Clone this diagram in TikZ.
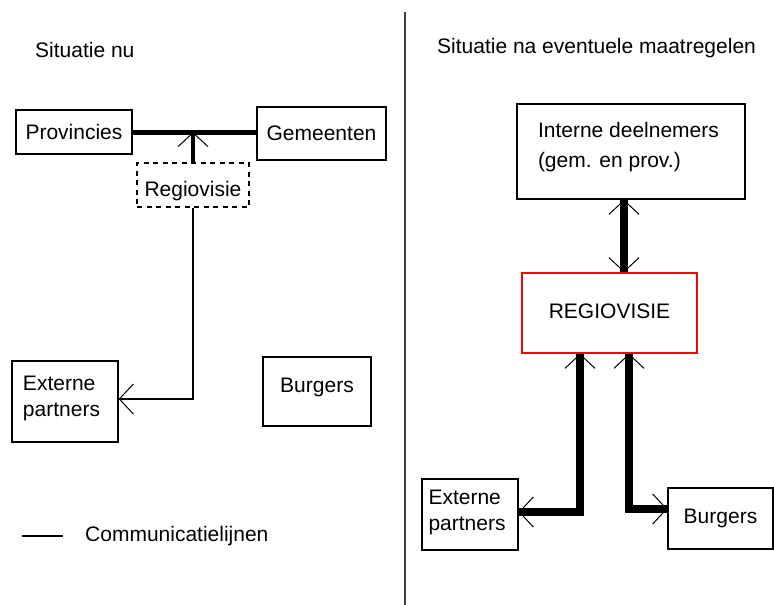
\documentclass[tikz,border=0pt]{standalone}
\usepackage{fontspec}
\setmainfont{Liberation Sans}
\usetikzlibrary{arrows.meta}
% move text inside a box without changing its reported size
\newcommand{\liftby}[2]{\raisebox{#1}[\height][\depth]{#2}}
\begin{document}
\begin{tikzpicture}[x=1pt,y=-1pt,
  every node/.style={font=\fontsize{21}{26}\selectfont},
  txt/.style={inner sep=0pt},
  box/.style={draw, rectangle, line width=1.3pt, inner sep=0pt, align=left},
  dashbox/.style={box, dash pattern=on 5pt off 4.5pt},
  redbox/.style={box, draw=red},
  thinline/.style={line width=1.3pt},
  boldline/.style={line width=5pt},
  heavyline/.style={line width=8.5pt},
  head/.style={postaction={draw, line width=1pt, -{Straight Barb[length=14pt,width=30pt]}}},
  heads/.style={postaction={draw, line width=1pt, {Straight Barb[length=14pt,width=30pt]}-{Straight Barb[length=14pt,width=30pt]}}}
]
\fill[white] (0,0) rectangle (774,605);
\useasboundingbox (0,0) rectangle (774,605);

% divider between the two situations
\coordinate (divtop) at (405,12);
\coordinate (divbot) at (405,605);
\draw[line width=2pt, black!75] (divtop) -- (divbot);

% headings
\node[txt, anchor=west] (titleleft) at (35,50) {Situatie nu};
\node[txt, anchor=west] (titleright) at (437,48) {Situatie na eventuele maatregelen};

% ---- current situation ----
\node[box, minimum width=116, minimum height=44] (prov) at (74,132) {Provincies};
\node[box, minimum width=129, minimum height=53] (gem) at (321.5,133.5) {Gemeenten};
\node[dashbox, minimum width=112, minimum height=44] (regio) at (193,185) {\liftby{-6pt}{Regiovisie}};
\node[box, minimum width=106, minimum height=81] (extL) at (65,401.5) {\liftby{3pt}{\parbox{84pt}{Externe\\partners}}};
\node[box, minimum width=108, minimum height=69] (burgL) at (317,391.5) {\liftby{4pt}{Burgers}};

\draw[boldline] (prov.east) -- (prov.east -| gem.west);
\draw[line width=4pt, head] (regio.north) -- (regio.north |- prov.east);
\draw[thinline, head] (regio.south) |- ([yshift=2.5pt]extL.east);

% legend
\coordinate (legA) at (22,536);
\coordinate (legB) at (63,536);
\draw[line width=1.5pt] (legA) -- (legB);
\node[txt, anchor=west] (legtext) at (85,536) {Communicatielijnen};

% ---- situation after measures ----
\node[box, minimum width=228, minimum height=95] (intern) at (631,151.5) {\liftby{4pt}{\parbox{186pt}{Interne deelnemers\\[4pt](gem. en prov.)}}};
\node[redbox, minimum width=175, minimum height=80] (regioR) at (609.5,313) {\liftby{2pt}{REGIOVISIE}};
\node[box, minimum width=96, minimum height=71] (extR) at (470,514.5) {\liftby{2pt}{\parbox{83pt}{Externe\\partners}}};
\node[box, minimum width=105, minimum height=61] (burgR) at (720.5,518.5) {Burgers};

\coordinate (xr) at (624,0);
\coordinate (xa) at (580,0);
\coordinate (xb) at (629,0);

\draw[heavyline, heads] (intern.south -| xr) -- (regioR.north -| xr);
\draw[heavyline, heads] (regioR.south -| xa) |- ([yshift=2.5pt]extR.east);
\draw[heavyline, heads] (regioR.south -| xb) |- ([yshift=9.5pt]burgR.west);
\end{tikzpicture}
\end{document}
